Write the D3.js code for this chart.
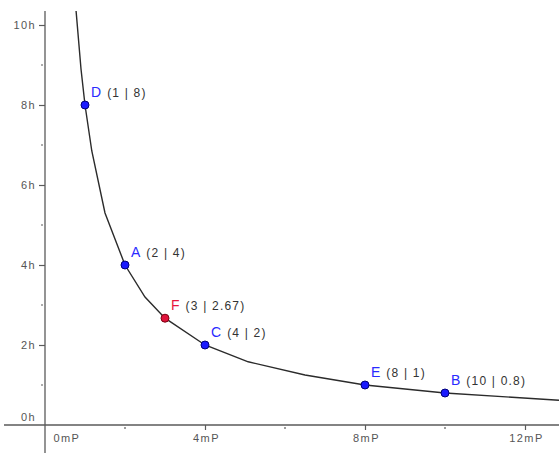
<!DOCTYPE html>
<html>
<head>
<meta charset="utf-8">
<script src="https://cdn.jsdelivr.net/npm/d3@7/dist/d3.min.js"></script>
<style>
  html, body { margin: 0; padding: 0; background: #fff; }
  svg { display: block; font-family: "Liberation Sans", Arial, sans-serif; }
</style>
</head>
<body>
<svg id="chart" width="559" height="453"></svg>
<script>
// ---- data ----
const xMajorTicks = [0, 4, 8, 12];
const xMinorTicks = [2, 6, 10];
const yMajorTicks = [0, 2, 4, 6, 8, 10];
const yMinorTicks = [1, 3, 5, 7, 9];
const xUnit = "mP";
const yUnit = "h";

const curveX = [0.75, 0.9, 1, 1.17, 1.5, 2, 2.5, 3, 4, 5.08, 6.5, 8, 10, 12.85];
const curveY = [10.67, 8.9, 8, 6.85, 5.3, 4, 3.2, 2.67, 2, 1.58, 1.25, 1, 0.8, 0.62];

// labelled points
const pointNames = ["D", "A", "F", "C", "E", "B"];
const pointX = [1, 2, 3, 4, 8, 10];
const pointY = [8, 4, 2.67, 2, 1, 0.8];
const pointLabels = ["(1 | 8)", "(2 | 4)", "(3 | 2.67)", "(4 | 2)", "(8 | 1)", "(10 | 0.8)"];
const pointKinds = ["blue", "blue", "red", "blue", "blue", "blue"];

// ---- drawing ----
const svg = d3.select("#chart");
const W = 559, H = 453;
const x = d3.scaleLinear().domain([0, 12]).range([45, 525]);
const y = d3.scaleLinear().domain([0, 10]).range([425, 25]);
const axisColor = "#5a5a5a";
const textColor = "#555";
const fill = { blue: "#1a1aff", red: "#e0143c" };
const stroke = { blue: "#00007a", red: "#7a0010" };
const nameColor = { blue: "#2a2aff", red: "#e8143c" };

svg.append("defs").append("clipPath").attr("id", "plot")
  .append("rect").attr("x", 0).attr("y", 11).attr("width", W).attr("height", H - 11);

// axis lines
svg.append("line").attr("x1", 4).attr("x2", W).attr("y1", y(0)).attr("y2", y(0))
  .attr("stroke", axisColor).attr("stroke-width", 1.3);
svg.append("line").attr("x1", x(0)).attr("x2", x(0)).attr("y1", 11).attr("y2", H)
  .attr("stroke", axisColor).attr("stroke-width", 1.3);

// y axis (major ticks + labels)
const yAxis = d3.axisLeft(y).tickValues(yMajorTicks).tickSize(6).tickPadding(3)
  .tickFormat(d => d + yUnit);
const gy = svg.append("g").attr("transform", `translate(${x(0)},0)`).call(yAxis);
gy.select(".domain").remove();
gy.selectAll(".tick line").attr("stroke", axisColor).attr("stroke-width", 1.2)
  .attr("display", d => d === 0 ? "none" : null);
gy.selectAll(".tick text").attr("fill", textColor).attr("font-size", 11)
  .attr("font-family", "Liberation Sans, Arial, sans-serif")
  .style("letter-spacing", "1.4px")
  .attr("dy", d => d === 0 ? "-0.4em" : "0.34em");

// y minor ticks
svg.append("g").selectAll("line").data(yMinorTicks).join("line")
  .attr("x1", x(0) - 4).attr("x2", x(0) - 2)
  .attr("y1", d => y(d)).attr("y2", d => y(d))
  .attr("stroke", axisColor).attr("stroke-width", 1.2);

// x axis (major ticks + labels)
const xAxis = d3.axisBottom(x).tickValues(xMajorTicks).tickSize(5).tickPadding(4)
  .tickFormat(d => d + xUnit);
const gx = svg.append("g").attr("transform", `translate(0,${y(0)})`).call(xAxis);
gx.select(".domain").remove();
gx.selectAll(".tick line").attr("stroke", axisColor).attr("stroke-width", 1.2)
  .attr("display", d => d === 0 ? "none" : null);
gx.selectAll(".tick text").attr("fill", textColor).attr("font-size", 11)
  .attr("font-family", "Liberation Sans, Arial, sans-serif")
  .style("letter-spacing", "1.4px")
  .attr("text-anchor", d => d === 0 ? "start" : "middle")
  .attr("x", d => d === 0 ? 8 : 1);

// x minor ticks
svg.append("g").selectAll("line").data(xMinorTicks).join("line")
  .attr("x1", d => x(d)).attr("x2", d => x(d))
  .attr("y1", y(0) + 2).attr("y2", y(0) + 4)
  .attr("stroke", axisColor).attr("stroke-width", 1.2);

// curve
const curvePts = curveX.map((v, i) => [v, curveY[i]]);
svg.append("path").datum(curvePts)
  .attr("clip-path", "url(#plot)")
  .attr("d", d3.line().x(d => x(d[0])).y(d => y(d[1])))
  .attr("fill", "none").attr("stroke", "#2b2b2b").attr("stroke-width", 1.4);

// points
const pts = pointNames.map((n, i) => ({ n, px: pointX[i], py: pointY[i], lab: pointLabels[i], k: pointKinds[i] }));
svg.append("g").selectAll("circle").data(pts).join("circle")
  .attr("cx", d => x(d.px)).attr("cy", d => y(d.py)).attr("r", 4)
  .attr("fill", d => fill[d.k]).attr("stroke", d => stroke[d.k]).attr("stroke-width", 1);

// point labels
const lab = svg.append("g").selectAll("text").data(pts).join("text")
  .attr("x", d => x(d.px) + 6).attr("y", d => y(d.py) - 8)
  .attr("font-family", "Liberation Sans, Arial, sans-serif");
lab.append("tspan").text(d => d.n).attr("fill", d => nameColor[d.k]).attr("font-size", 14);
lab.append("tspan").text(d => d.lab).attr("dx", 6).attr("fill", "#333").attr("font-size", 12)
  .style("letter-spacing", "1.2px");
</script>
</body>
</html>
